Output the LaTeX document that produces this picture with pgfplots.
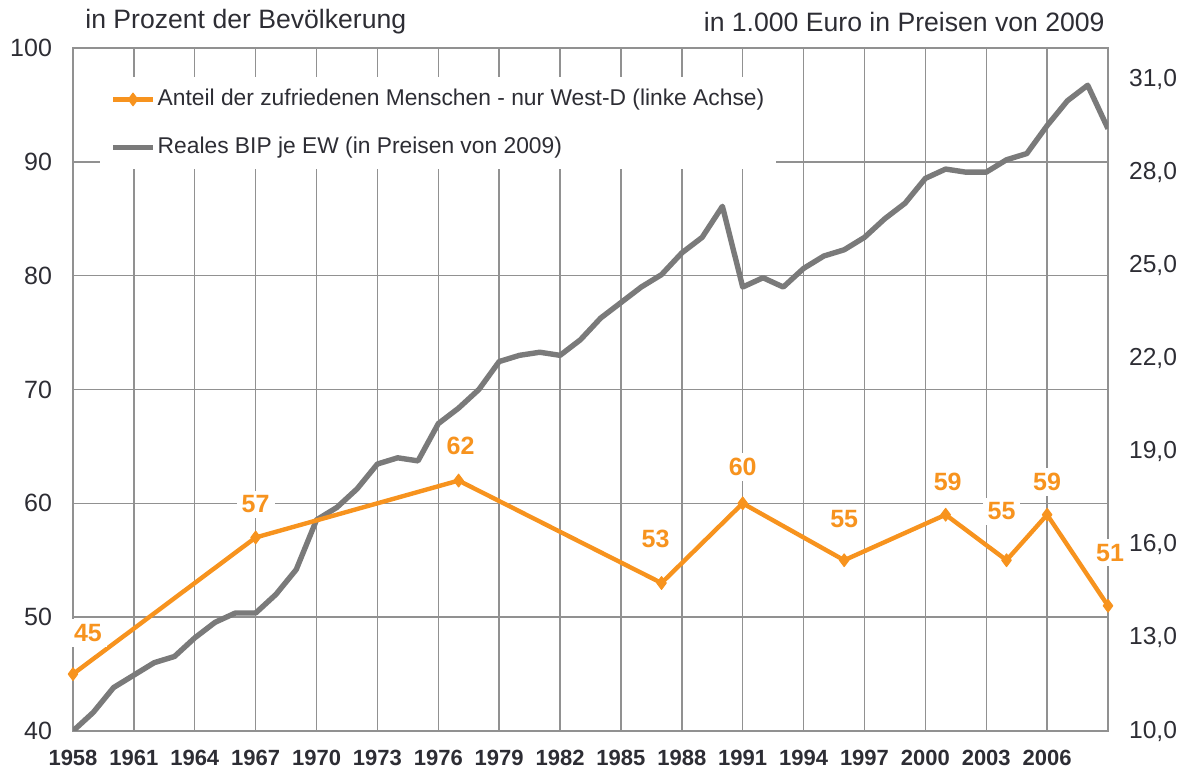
\documentclass[border=0pt]{standalone}
\usepackage{pgfplots}
\pgfplotsset{compat=1.18}
\usepackage{pgfplotstable}
\usepackage{fontspec}
\setmainfont{Liberation Sans}
\definecolor{myorange}{RGB}{247,147,30}
\definecolor{mygray}{RGB}{122,122,122}
\definecolor{gridgray}{RGB}{145,145,145}
\definecolor{txt}{RGB}{45,45,52}

\pgfplotstableread{
year bip
1958 10.0
1959 10.6
1960 11.4
1961 11.8
1962 12.2
1963 12.4
1964 13.0
1965 13.5
1966 13.8
1967 13.8
1968 14.4
1969 15.2
1970 16.8
1971 17.2
1972 17.8
1973 18.6
1974 18.8
1975 18.7
1976 19.9
1977 20.4
1978 21.0
1979 21.9
1980 22.1
1981 22.2
1982 22.1
1983 22.6
1984 23.3
1985 23.8
1986 24.3
1987 24.7
1988 25.4
1989 25.9
1990 26.9
1991 24.3
1992 24.6
1993 24.3
1994 24.9
1995 25.3
1996 25.5
1997 25.9
1998 26.5
1999 27.0
2000 27.8
2001 28.1
2002 28.0
2003 28.0
2004 28.4
2005 28.6
2006 29.5
2007 30.3
2008 30.8
2009 29.4
}\bip

\pgfplotstableread{
year val dx dy
1958 45 7.5 20.5
1967 57 0 16.5
1977 62 1 17.5
1987 53 -3 22
1991 60 0 18
1996 55 0 20.5
2001 59 1 16.5
2004 55 -2.5 24.5
2006 59 0 16.5
2009 51 1 26.5
}\sat

\begin{document}
\begin{tikzpicture}
\path[use as bounding box] (-36.5pt,-21.5pt) rectangle (557.5pt,365.5pt);
\pgfplotsset{base/.style={at={(0pt,0pt)}, anchor=south west, scale only axis,
  width=517.5pt, height=341.5pt, xmin=1958, xmax=2009,
  /pgf/number format/assume math mode=true, /pgf/number format/1000 sep={},
  major tick length=0pt}}
% grid and left/bottom axis
\begin{axis}[base, ymin=40, ymax=100, ytick={40,50,...,100},
  xtick={1958,1961,...,2006},
  grid=major, major grid style={gridgray, line width=0.7pt},
  axis line style={gridgray, line width=0.7pt},
  xticklabel style={font=\bfseries\fontsize{11}{13}\selectfont, text=txt, yshift=-6pt},
  yticklabel style={font=\fontsize{12.5}{14}\selectfont, text=txt, xshift=-7pt}]
\end{axis}
% right axis: GDP
\begin{axis}[base, ymin=10, ymax=32, ytick={10,13,...,31},
  hide x axis, axis y line*=right, y axis line style={draw=none},
  yticklabel style={font=\fontsize{12.3}{14}\selectfont, text=txt, xshift=7pt,
    /pgf/number format/fixed, /pgf/number format/fixed zerofill,
    /pgf/number format/precision=1, /pgf/number format/use comma}]
\addplot[mygray, line width=2.7pt, line join=round] table[x=year,y=bip]{\bip};
\end{axis}
% left axis: satisfaction
\begin{axis}[base, ymin=40, ymax=100, hide axis, clip=false,
  legend style={at={(0.026,0.9575)}, anchor=north west, draw=none, fill=white,
    font=\fontsize{11.4}{14}\selectfont, text=txt, inner xsep=5pt, inner ysep=3pt,
    row sep=8pt, column sep=0pt, cells={anchor=west},
    nodes={text height=9pt, text depth=3pt, inner xsep=1pt, inner ysep=2pt}},
  legend image code/.code={\draw[mark repeat=2,mark phase=2,#1] plot coordinates {(0pt,0pt) (10pt,0pt) (20pt,0pt)};}]
\addplot[myorange, line width=2.2pt, line join=round, mark=diamond*, mark size=3.2pt,
  mark options={solid, line width=0.5pt},
  point meta=explicit, nodes near coords,
  visualization depends on={\thisrow{dx}\as\dx},
  visualization depends on={\thisrow{dy}\as\dy},
  nodes near coords style={anchor=center, xshift=\dx pt, yshift=\dy pt, fill=white,
    inner sep=2.5pt, font=\bfseries\fontsize{12.5}{14}\selectfont, text=myorange}]
  table[x=year, y=val, meta=val]{\sat};
\addlegendentry{Anteil der zufriedenen Menschen - nur West-D (linke Achse)}
\addlegendimage{mygray, line width=2.7pt}
\addlegendentry{Reales BIP je EW (in Preisen von 2009)}
\end{axis}
\node[anchor=west, inner sep=0pt, font=\fontsize{13.3}{15}\selectfont, text=txt] at (6pt,354.5pt) {in Prozent der Bevölkerung};
\node[anchor=east, inner sep=0pt, font=\fontsize{13.3}{15}\selectfont, text=txt] at (516pt,354.5pt) {in 1.000 Euro in Preisen von 2009};
\end{tikzpicture}
\end{document}
